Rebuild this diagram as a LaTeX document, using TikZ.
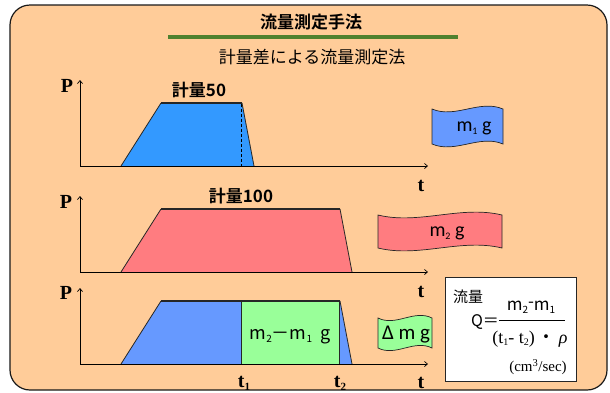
\documentclass[tikz,border=0pt]{standalone}
\usepackage{fontspec}
\setmainfont{Liberation Serif}
\newfontfamily\jp{Noto Sans CJK JP}
\newfontfamily\jpbold{Noto Sans CJK JP Bold}
\newfontfamily\calib{Carlito}
\usetikzlibrary{arrows.meta}
\definecolor{peach}{HTML}{FFCC99}
\definecolor{blueA}{HTML}{3399FF}
\definecolor{blueB}{HTML}{6699FF}
\definecolor{pinkA}{HTML}{FF7C80}
\definecolor{greenA}{HTML}{99FF99}
\definecolor{lineG}{HTML}{4F812F}
\newcommand\sbx[2][10]{\raisebox{-0.3ex}{\fontsize{#1}{#1}\selectfont #2}}
\newcommand\wavy[6]{% x0 yt x1 yb c fill
  \path[draw=black!85,line width=0.7pt,fill=#6]
   (#1,#2) .. controls ({#1+0.33*(#3-#1)},{#2+#5}) and ({#1+0.67*(#3-#1)},{#2-#5}) .. (#3,#2)
   -- (#3,#4) .. controls ({#1+0.67*(#3-#1)},{#4-#5}) and ({#1+0.33*(#3-#1)},{#4+#5}) .. (#1,#4) -- cycle;}
\tikzset{
  ax/.style={line width=0.7pt,-{Straight Barb[length=3pt,width=5pt]}},
  trap/.style={draw=black!85,line width=0.8pt},
  topedge/.style={line width=1.6pt,draw=black!85},
  plab/.style={font=\fontsize{20}{20}\selectfont\bfseries},
  tlab/.style={font=\fontsize{20}{20}\selectfont\bfseries},
  keir/.style={font=\jpbold\fontsize{17}{17}\selectfont},
  boxtxt/.style={font=\calib\fontsize{20}{20}\selectfont},
}
\begin{document}
\begin{tikzpicture}[x=1pt,y=-1pt]
\useasboundingbox (0,0) rectangle (610,392);
% background panel
\draw[fill=peach,draw=black!90,line width=1.2pt,rounded corners=20pt] (10,5) rectangle (607,390);
\node[font=\jpbold\fontsize{17}{17}\selectfont] (title) at (311,22) {流量測定手法};
\coordinate (gl) at (168,37); \coordinate (gr) at (458,37);
\draw[lineG,line width=4pt] (gl) -- (gr);
\node[font=\jp\fontsize{17}{17}\selectfont] (sub) at (312,57) {計量差による流量測定法};

% ---- chart 1
\coordinate (o1) at (80,166); \coordinate (y1) at (80,80); \coordinate (x1) at (428,166);
\fill[blueA] (121,166) -- (161,103) -- (242,103) -- (254,166) -- cycle;
\draw[trap] (121,166) -- (161,103);
\draw[trap] (242,103) -- (254,166);
\draw[topedge] (161,103) -- (242,103);
\draw[densely dashed,line width=0.6pt] (241,104) -- (241,166);
\draw[ax] (o1) -- (y1);
\draw[ax] (o1) -- (x1);
\node[plab] (p1) at (67,86) {P};
\node[tlab] (t1) at (421,186) {t};
\node[keir] (k50) at (199,90) {計量50};
\wavy{432}{109}{503}{144}{10}{blueB}
\node[boxtxt] (m1) at (474,128) {m\sbx{1} g};

% ---- chart 2
\coordinate (o2) at (80,272); \coordinate (y2) at (80,196); \coordinate (x2) at (428,272);
\fill[pinkA] (121,272) -- (161,209) -- (340,209) -- (352,272) -- cycle;
\draw[trap] (121,272) -- (161,209);
\draw[trap] (340,209) -- (352,272);
\draw[topedge] (161,209) -- (340,209);
\draw[ax] (o2) -- (y2);
\draw[ax] (o2) -- (x2);
\node[plab] (p2) at (66,202) {P};
\node[tlab] (t2) at (421,292) {t};
\node[keir] (k100) at (241,196) {計量100};
\wavy{378}{215}{502}{248}{10}{pinkA}
\node[boxtxt] (m2) at (447,233) {m\sbx{2} g};

% ---- chart 3
\coordinate (o3) at (80,364); \coordinate (y3) at (80,288); \coordinate (x3) at (428,364);
\fill[blueB] (121,364) -- (161,301) -- (340,301) -- (352,364) -- cycle;
\fill[greenA] (241,301) rectangle (339,364);
\draw[trap] (121,364) -- (161,301);
\draw[trap] (340,301) -- (352,364);
\draw[trap] (241,301) -- (241,364);
\draw[trap] (339,301) -- (339,364);
\draw[topedge] (161,301) -- (340,301);
\draw[ax] (o3) -- (y3);
\draw[ax] (o3) -- (x3);
\node[plab] (p3) at (66,293) {P};
\node[tlab] (t3) at (421,383) {t};
\node[tlab] (t1l) at (244,383) {t\sbx[11]{1}};
\node[tlab] (t2l) at (340,383) {t\sbx[11]{2}};
\node[font=\jp\fontsize{18}{18}\selectfont] (dm) at (290,337) {m\sbx{2}－m\sbx{1}\ \ g};
\wavy{378}{318}{432}{348}{9}{greenA}
\node[boxtxt,font=\calib\fontsize{21}{21}\selectfont] (delta) at (406,335) {Δ m g};

% ---- formula box
\draw[fill=white,draw=black!85,line width=0.7pt] (445,277) rectangle (576,381);
\node[font=\jp\fontsize{15}{15}\selectfont] (ryu) at (468,297) {流量};
\node[font=\jp\fontsize{16}{16}\selectfont] (Q) at (485,322) {Q＝};
\coordinate (fa) at (499,320); \coordinate (fb) at (565,320);
\draw[line width=0.8pt] (fa) -- (fb);
\node[font=\jp\fontsize{17}{17}\selectfont] (num) at (531,307) {m\sbx{2}\raisebox{0.3ex}{-}m\sbx{1}};
\node[font=\fontsize{18}{18}\selectfont] (den) at (530,339) {(t\sbx{1}- t\sbx{2})\,{\jp・}\,{\itshape ρ}};
\node[font=\fontsize{15}{15}\selectfont] (unit) at (538,367) {(cm\textsuperscript{3}/sec)};
\end{tikzpicture}
\end{document}
